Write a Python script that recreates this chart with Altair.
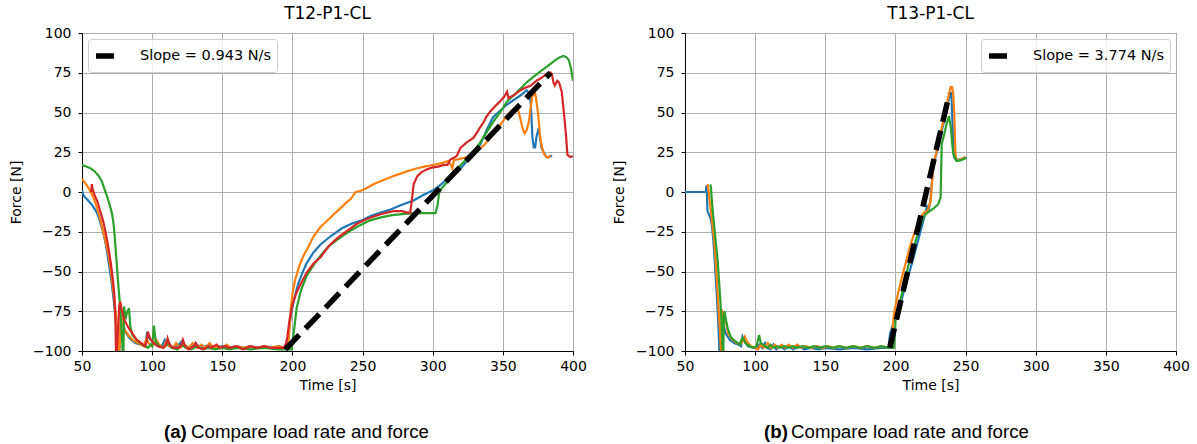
import altair as alt
import pandas as pd

# ---------------- data: T12-P1-CL (left panel) ----------------
L_blue_t = [50, 51, 53, 55, 57, 60, 62, 65, 67, 69, 71, 72.5, 74, 75, 75.8, 76.5, 77.5, 79, 81, 84, 88, 92, 95, 96.5, 98, 101, 104, 107, 109, 111, 114, 118, 121, 124, 128, 131, 134, 138, 141, 145, 150, 155, 160, 165, 170, 175, 180, 185, 190, 194, 196, 197.5, 199, 201, 204, 207, 210, 215, 220, 227, 235, 242, 249, 256, 263, 270, 278, 286, 293, 300, 305, 310, 315, 320, 327, 334, 339, 343, 348, 353, 358, 363, 367, 369, 370, 371, 372, 373, 374, 375.5, 376.5, 377.5, 379, 381, 383, 385]
L_blue_f = [1, -2, -4, -6, -8, -12, -16, -25, -33, -44, -56, -67, -80, -92, -100, -103, -85, -82, -88, -92, -95, -96, -97, -88, -92, -95, -96, -97, -93, -96, -98, -97, -94, -97, -98, -95, -98, -97, -96, -98, -97, -98, -97, -98, -97, -98, -97, -98, -97, -98, -95, -87, -77, -68, -58, -51, -45, -38, -33, -28, -23, -20, -18, -15, -13, -11, -8, -5.5, -2, 1, 4, 8, 11, 15, 22, 30, 40, 47, 51, 55, 58, 61, 64, 62, 55, 35, 28, 28, 35, 40, 34, 28, 25, 22, 22, 23]

L_orange_t = [50, 52, 55, 58, 60, 63, 66, 69, 71, 72.5, 74, 75, 75.8, 76.3, 77, 77.5, 78.5, 80, 83, 86, 90, 94, 96, 97.5, 100, 103, 105, 108, 110, 112, 115, 117, 120, 123, 126, 129, 132, 135, 138, 141, 144, 147, 150, 153, 156, 160, 165, 170, 175, 180, 185, 190, 195, 197, 198, 199, 200, 202, 205, 208, 211, 215, 220, 226, 232, 238, 242, 245, 248, 252, 258, 265, 272, 280, 287, 294, 300, 306, 311, 313, 314, 315, 320, 325, 331, 336, 341, 345, 348, 352, 356, 359, 361, 362.5, 364, 365.5, 367, 368.5, 370, 371, 372.6, 373.5, 375, 376, 377, 378.5, 380, 382, 384]
L_orange_f = [8, 6, 2, -3, -8, -17, -28, -40, -52, -63, -75, -88, -98, -103, -95, -78, -80, -86, -90, -93, -95, -97, -92, -95, -97, -93, -96, -98, -94, -97, -98, -95, -98, -96, -98, -95, -98, -96, -98, -95, -98, -97, -98, -96, -98, -97, -98, -97, -98, -97, -98, -97, -98, -96, -85, -72, -64, -55, -46, -40, -35, -28, -22, -17, -12, -7, -4, 0, 0.5, 2, 5, 7.5, 10, 12.5, 14.5, 16, 17, 18, 19.5, 17, 15, 20, 21, 22, 25.5, 29, 34, 38, 42, 47, 51, 53, 51, 46, 40, 37, 39, 44, 54, 60, 63, 60, 50, 40, 32, 26, 23, 21.5, 23]

L_green_t = [50, 53, 56, 59, 62, 64, 66, 68, 70, 71.5, 72.5, 73.5, 74.5, 75.5, 76.5, 77.3, 78, 78.7, 79, 79.5, 80, 81, 82, 83.5, 84.5, 86, 89, 93, 97, 99, 100, 101.3, 102.5, 105, 108, 112, 114, 118, 121, 124, 128, 132, 136, 140, 145, 150, 155, 160, 170, 180, 190, 197, 199.5, 201, 203, 206, 210, 215, 220, 226, 232, 240, 248, 255, 263, 271, 280, 290, 297, 302, 303.5, 304.5, 306, 310, 315, 320, 326.5, 333, 338, 343, 348, 353, 358, 362.6, 367, 372, 377, 381.7, 386, 390, 393, 395, 397, 398.5, 400]
L_green_f = [17, 16, 15, 13, 10, 7, 2, -3, -9, -14, -20, -30, -42, -54, -65, -73, -85, -95, -100, -103, -72, -80, -76, -73, -85, -90, -93, -96, -98, -96, -97, -84, -94, -97, -98, -95, -98, -99, -96, -98, -99, -97, -99, -98, -99, -98, -99, -98, -99, -98, -99, -99, -99, -88, -73, -62, -53, -46, -40, -34, -30, -25, -21, -18, -16, -14.5, -13.7, -13.3, -13.3, -13.3, -8, -1, 2, 6, 12, 17, 23, 30, 37, 44, 50, 57, 61, 65, 69, 72.5, 76, 79, 82, 84.5, 85.6, 85, 83, 78, 70]

L_red_t = [56.5, 57, 57.5, 59, 61, 63, 65, 67, 69, 70.6, 72, 73, 73.8, 74.2, 74.6, 75.5, 76.5, 77.3, 78.5, 80, 82.9, 86, 89, 92.3, 95, 96, 97, 98.5, 101, 104, 108, 110, 111, 112.5, 115, 119, 121, 122, 123.5, 126, 130, 131, 133, 137, 140, 142, 146, 148, 152, 155, 160, 165, 170, 175, 180, 185, 190, 194, 195.5, 196.4, 198, 200, 203, 205.8, 210, 215, 220, 226, 232, 239, 246, 253, 262.7, 272, 278, 282, 284, 285, 286.4, 289, 292, 296, 300, 304, 308, 310.5, 312.6, 315, 317, 319.8, 324, 329, 332, 334, 336.4, 338, 341, 344, 348, 351, 353, 354, 358, 362.6, 366, 370, 374, 377, 381.7, 384, 385, 386, 387, 388.8, 390, 392, 393.5, 395, 396, 398, 400]
L_red_f = [0, 5, 2, -2, -6, -12, -18, -26, -36, -45, -55, -64, -80, -100, -103, -90, -72, -69, -75, -80, -85, -89, -93, -95, -97, -94, -88, -92, -95, -97, -98, -96, -92, -96, -98, -98, -96, -93, -97, -99, -97, -95, -98, -99, -97, -98, -96, -98, -97, -98, -97, -99, -97, -98, -97, -98, -98, -98, -95, -91, -80, -71, -63, -58, -51, -45, -41, -34, -29, -24.5, -20, -17, -14, -12, -12, -13, -13, -6, 4.8, 10, 12.5, 14.3, 15.5, 16, 17, 17, 20.4, 21.5, 22.5, 27.7, 31, 34, 38, 41, 44, 47, 50.6, 53.5, 57, 60, 63, 59, 61, 64, 65.5, 67, 70, 71.5, 74.6, 75.2, 74, 69, 67, 70, 69, 63, 50, 36, 23.5, 22, 22.5]

L_slope_t = [195, 384]
L_slope_f = [-99, 75]

# ---------------- data: T13-P1-CL (right panel) ----------------
R_blue_t = [50, 65, 65.2, 65.6, 66, 67, 68, 69, 70, 71, 72, 73, 74, 74.5, 75, 75.5, 76.5, 77.5, 79, 82, 85, 88, 90, 91, 92.5, 95, 99, 101, 103, 105, 107, 108.5, 111, 113, 115, 118, 121, 124, 127, 131, 135, 140, 145, 150, 160, 170, 180, 190, 195, 196.2, 200, 204.3, 208, 212.4, 216, 220.5, 222.5, 223.8, 225, 226.5, 228, 231, 234, 236.5, 238.5, 239.3, 240, 240.6, 241.3, 241.8, 243, 246.5, 250]
R_blue_f = [0, 0, 4, 0, -12, -14, -16, -20, -28, -40, -55, -70, -88, -100, -103, -85, -80, -84, -89, -93, -95, -96, -97, -91, -94, -97, -98, -98, -96, -98, -95, -98, -99, -96, -99, -97, -99, -97, -99, -97, -99, -98, -99, -98, -99, -98, -99, -98, -98, -89, -79, -68, -56, -43, -31, -16, -9, -11, -5, 12, 20, 31, 42, 52, 60, 63, 60, 45, 30, 22, 20.5, 20.4, 22]

R_orange_t = [66.1, 66.6, 67.5, 68.5, 69.5, 70.9, 72, 73.3, 74.2, 74.9, 75.6, 75.9, 76.3, 77.3, 78.5, 80.7, 84, 87, 90.2, 92.6, 94, 97, 100, 102, 104, 106, 109, 111, 114, 116, 119, 121, 124, 127, 130, 133, 136, 140, 144, 148, 152, 156, 160, 165, 170, 175, 180, 185, 190, 195, 197, 198.9, 202, 206, 210.8, 215, 218, 220.3, 222.7, 225, 227.3, 229, 232, 235, 237, 239.3, 240.3, 241.2, 242, 242.8, 243.6, 245.2, 248, 250]
R_orange_f = [5, 2, -5, -12, -20, -31, -45, -64, -78, -87, -100, -103, -74, -80, -78, -89, -93, -95, -95, -91, -94, -97, -98, -99, -96, -98, -95, -98, -96, -98, -96, -98, -96, -98, -96, -98, -97, -98, -97, -98, -97, -98, -97, -98, -97, -98, -97, -98, -97, -98, -96, -77, -63, -49, -33, -22, -16, -13, -12, -6, 19, 24, 36, 48, 57, 66, 66, 62, 48, 24, 20, 19.9, 21, 22]

R_green_t = [68, 68.5, 69, 70, 70.9, 72, 73.3, 74.2, 75.2, 76.2, 76.9, 77.3, 77.7, 78.1, 79.3, 80.5, 82.9, 86, 89, 90.6, 91.5, 93, 96, 99, 101, 102.8, 104, 107, 109, 111, 113, 116, 118, 121, 124, 127, 130, 134, 138, 142, 146, 150, 155, 160, 165, 170, 175, 180, 185, 190, 195, 198.9, 200.1, 203, 206, 209, 211.6, 215, 217.5, 219.8, 221.5, 223.4, 227, 230.5, 232.2, 233, 235.3, 236.5, 238.2, 238.8, 239.6, 240.5, 241.3, 243.6, 247, 250.7]
R_green_f = [4.8, 3, -4, -14, -22, -32, -43, -55, -68, -85, -100, -103, -78, -75, -81, -86, -91.6, -94, -96, -92, -92, -95, -97, -98, -97, -90, -95, -97, -98, -96, -98, -97, -98, -97, -98, -97, -98, -97, -98, -97, -98, -97, -98, -97, -98, -97, -98, -97, -98, -97, -98, -98, -81, -70, -59, -47, -39, -29, -22, -16, -14, -12.6, -10.5, -7.7, -3.5, 30, 38, 43, 47.8, 44, 40, 30, 23.7, 19.5, 20, 21.6]

R_slope_t = [196, 238.5]
R_slope_f = [-98, 62]

RUN_COLORS = ["#1f77b4", "#ff7f0e", "#2ca02c", "#d62728"]
X_TICKS = [50, 100, 150, 200, 250, 300, 350, 400]
Y_TICKS = [-100, -75, -50, -25, 0, 25, 50, 75, 100]

PW, PH = 491, 318


def series_frame(series):
    rows = []
    for run, (ts, fs) in enumerate(series, start=1):
        for i, (t, f) in enumerate(zip(ts, fs)):
            rows.append({"t": t, "F": f, "run": str(run), "i": i})
    return pd.DataFrame(rows)


def panel(series, slope_t, slope_f, slope_label, title, legend_orient, cap_letter, cap_x):
    df = series_frame(series)
    x = alt.X("t:Q", scale=alt.Scale(domain=[50, 400], nice=False, zero=False),
              axis=alt.Axis(values=X_TICKS, title="Time [s]", titlePadding=5, labelPadding=4,
                            labelFlush=False))
    y = alt.Y("F:Q", scale=alt.Scale(domain=[-100, 100], nice=False),
              axis=alt.Axis(values=Y_TICKS, title="Force [N]", titlePadding=9, labelPadding=7,
                            labelFlush=False))
    lines = alt.Chart(df).mark_line(strokeWidth=2.2, clip=True).encode(
        x=x, y=y,
        color=alt.Color("run:N", scale=alt.Scale(domain=["1", "2", "3", "4"], range=RUN_COLORS), legend=None),
        order="i:Q",
    )
    sdf = pd.DataFrame({"t": slope_t, "F": slope_f, "label": [slope_label] * len(slope_t)})
    slope = alt.Chart(sdf).mark_line(strokeWidth=5.5, strokeDash=[20, 9], clip=True).encode(
        x=x, y=y,
        stroke=alt.Stroke("label:N", scale=alt.Scale(range=["black"]),
                          legend=alt.Legend(title=None, orient=legend_orient, offset=6,
                                            symbolType="stroke", symbolStrokeWidth=5.5, symbolSize=324,
                                            symbolDash=[22, 0], labelFont="DejaVu Sans", labelFontSize=14.5,
                                            labelColor="black", labelOffset=23, padding=5,
                                            fillColor="rgba(255,255,255,0.8)", strokeColor="#cccccc",
                                            cornerRadius=3)),
    )
    cap_df = pd.DataFrame({"a": [f"({cap_letter})"], "b": ["Compare load rate and force"]})
    cap_a = alt.Chart(cap_df).mark_text(font="Liberation Sans", fontSize=18.7, fontWeight="bold",
                                        align="left", baseline="middle", color="black").encode(
        text="a:N", x=alt.value(cap_x), y=alt.value(PH + 81))
    cap_b = alt.Chart(cap_df).mark_text(font="Liberation Sans", fontSize=18.7,
                                        align="left", baseline="middle", color="black").encode(
        text="b:N", x=alt.value(cap_x + 27), y=alt.value(PH + 81))
    return alt.layer(lines, slope, cap_a, cap_b).properties(
        width=PW, height=PH,
        title=alt.TitleParams(title, font="DejaVu Sans", fontSize=17, fontWeight="normal",
                              color="black", offset=3),
    )


left = panel([(L_blue_t, L_blue_f), (L_orange_t, L_orange_f), (L_green_t, L_green_f), (L_red_t, L_red_f)],
             L_slope_t, L_slope_f, "Slope = 0.943 N/s", "T12-P1-CL", "top-left", "a", 82)
right = panel([(R_blue_t, R_blue_f), (R_orange_t, R_orange_f), (R_green_t, R_green_f)],
              R_slope_t, R_slope_f, "Slope = 3.774 N/s", "T13-P1-CL", "top-right", "b", 79)

chart = alt.hconcat(left, right, spacing=25).resolve_scale(
    color="independent", stroke="independent").resolve_legend(stroke="independent").properties(
    padding={"left": 9, "top": 4, "right": 5, "bottom": 5}
).configure_view(stroke="black", strokeWidth=1).configure_axis(
    labelFont="DejaVu Sans", labelFontSize=14, titleFont="DejaVu Sans", titleFontSize=14,
    titleFontWeight="normal", labelColor="black", titleColor="black", domainColor="black",
    tickColor="black", tickSize=4, gridColor="#b0b0b0", gridWidth=1,
)

chart.save("out.html", embed_options={"renderer": "svg", "actions": False})
